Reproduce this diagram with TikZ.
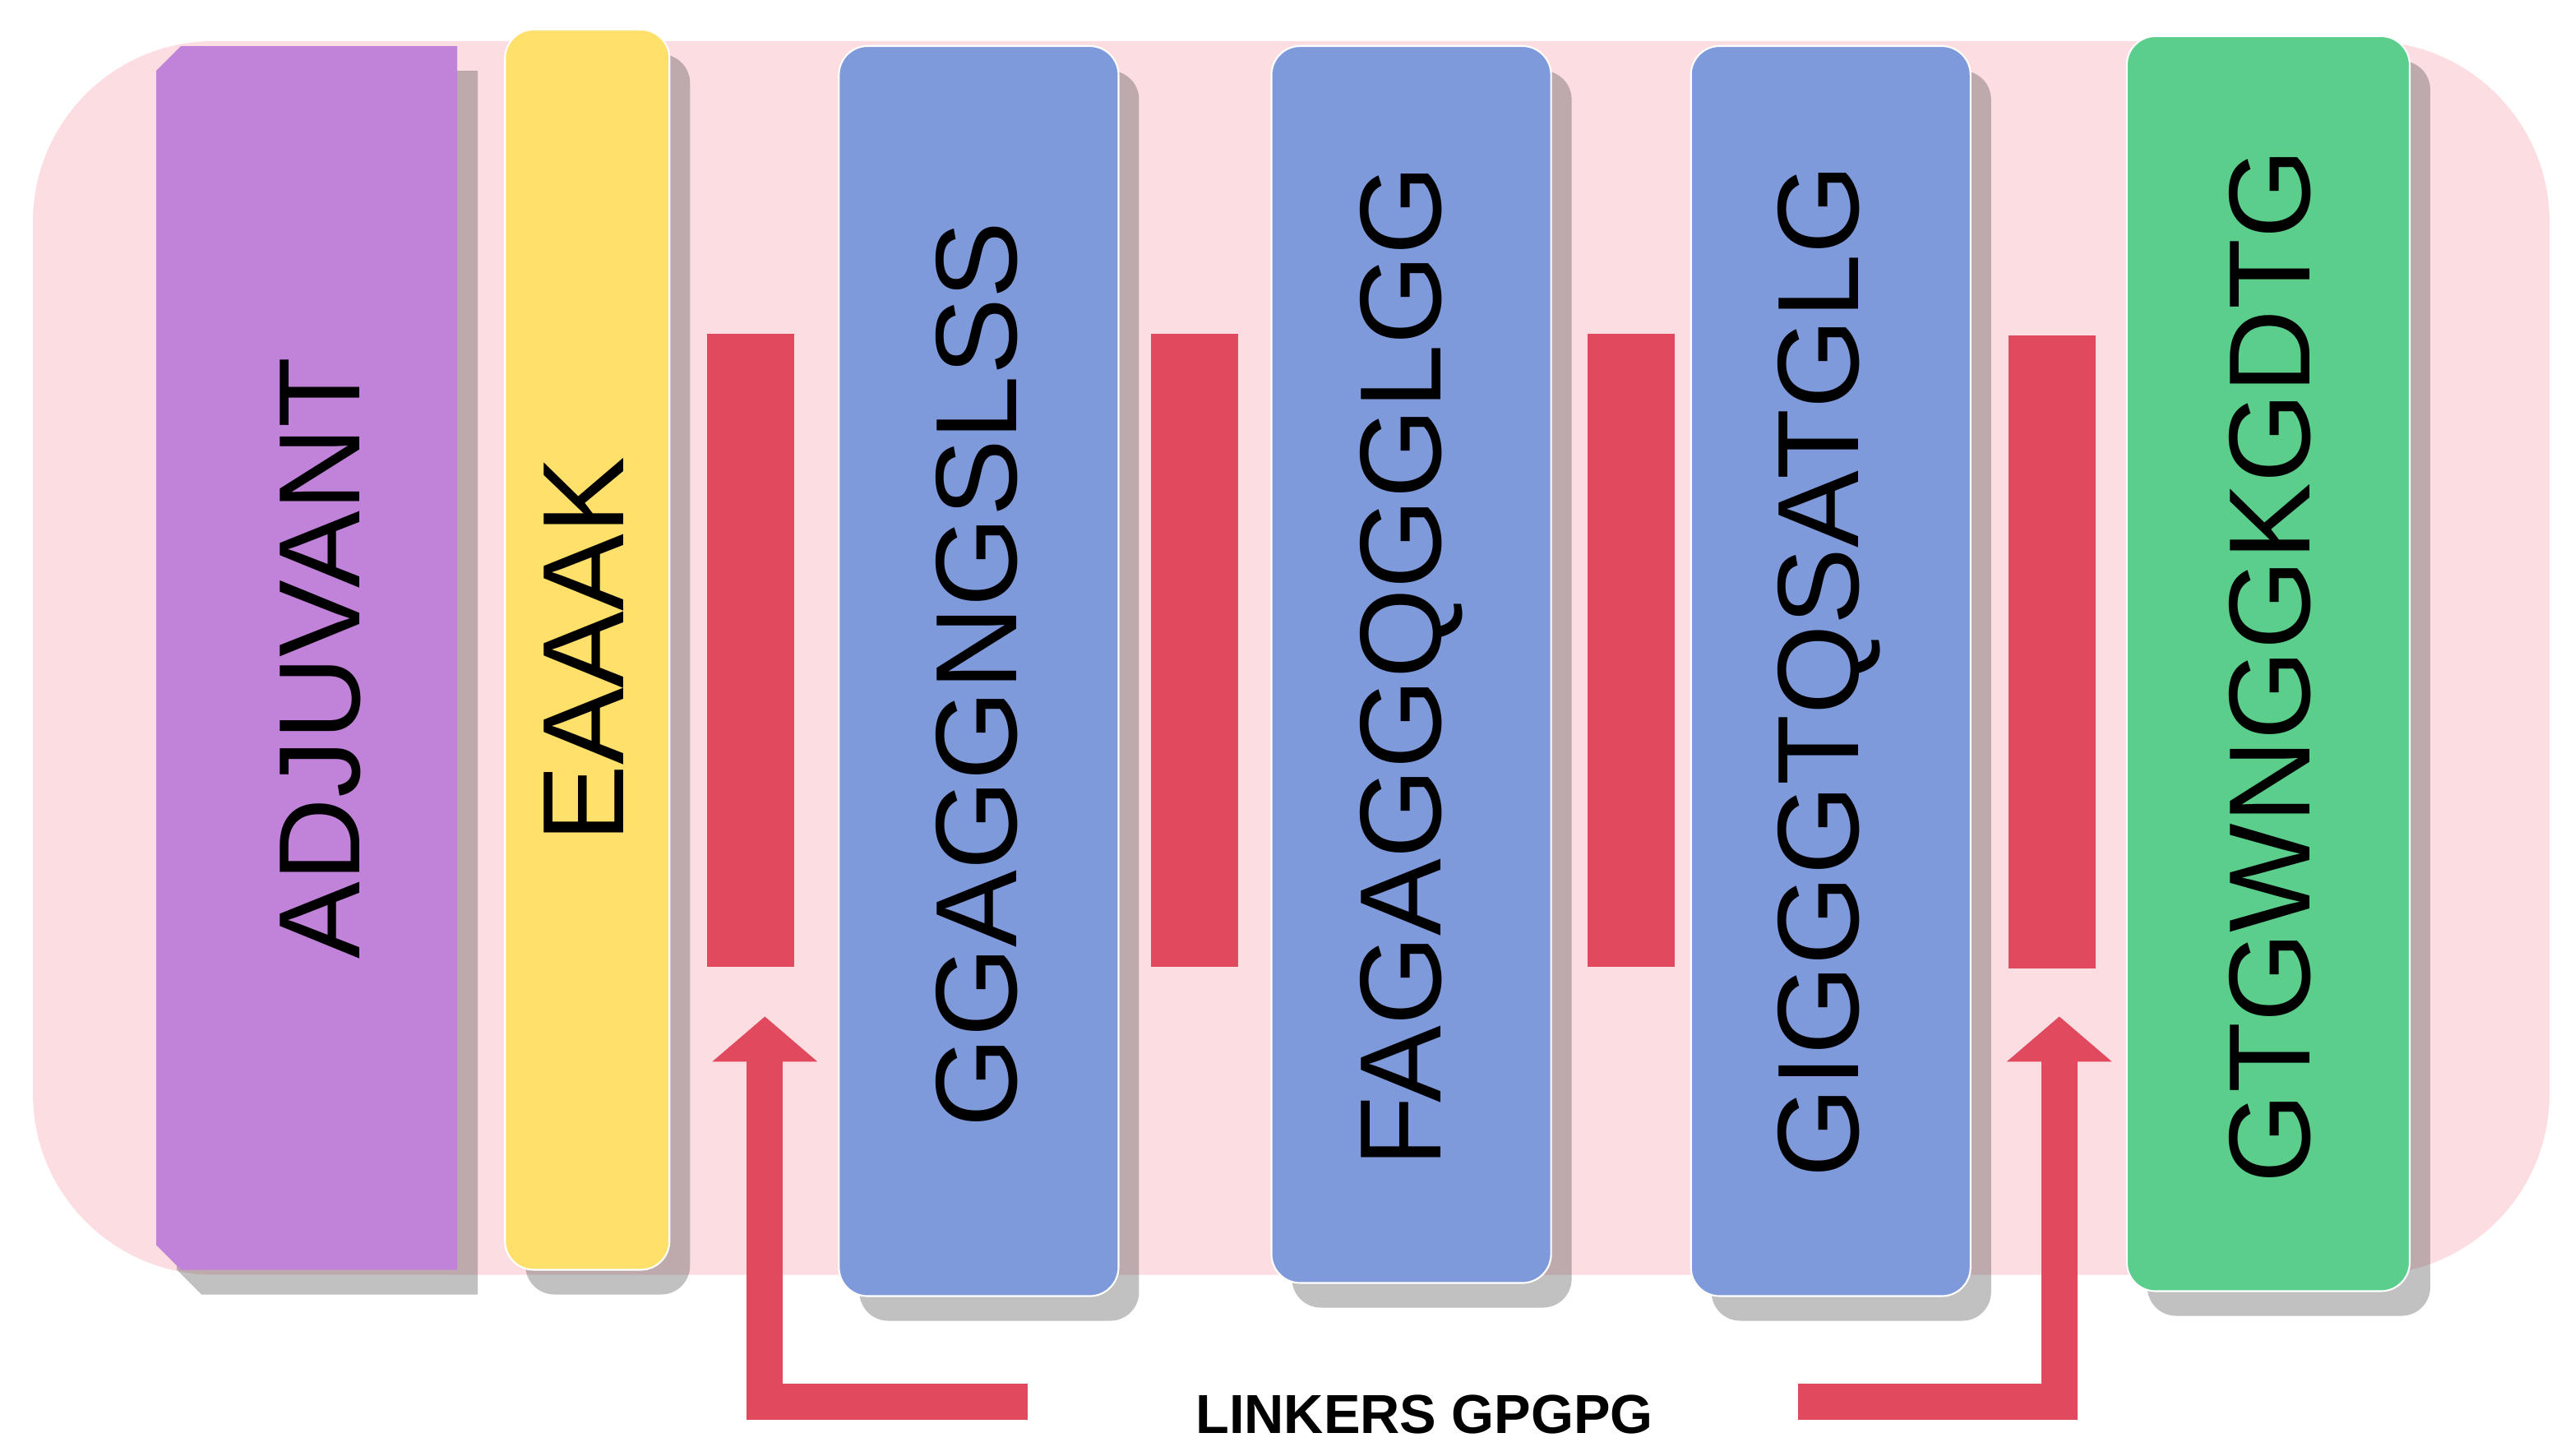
\documentclass[tikz,border=0pt]{standalone}
\usepackage{fontspec}
\setmainfont{Liberation Sans}
\usetikzlibrary{shadows,arrows.meta}
\definecolor{bgpink}{HTML}{FCDDE2}
\definecolor{purp}{HTML}{C183DA}
\definecolor{yel}{HTML}{FFE06A}
\definecolor{redb}{HTML}{E0495E}
\definecolor{blu}{HTML}{7F9ADB}
\definecolor{grn}{HTML}{5BCE8C}
\begin{document}
\begin{tikzpicture}[x=0.02cm,y=-0.02cm,
  sh/.style={drop shadow={shadow xshift=0.25cm,shadow yshift=-0.3cm,opacity=0.35,fill=black!70}},
  box/.style={sh,rounded corners=0.35cm,draw=white,line width=0.6pt},
  lab/.style={rotate=90,font=\fontsize{40}{40}\selectfont},
  bar/.style={fill=redb},
  link/.style={draw=redb,line width=0.44cm,-{Triangle[length=0.55cm,width=1.25cm]}}]
\useasboundingbox (0,0) rectangle (1557,885);
\fill[bgpink,rounded corners=2.2cm] (20,25) rectangle (1550,775);
% adjuvant
\fill[purp,sh] (110,28) -- (278,28) -- (278,772) -- (110,772) -- (95,757) -- (95,43) -- cycle;
\node[lab] (adj) at (195,400) {ADJUVANT};
\fill[yel,box] (307,18) rectangle (407,772);
\node[lab] (e) at (355,395) {EAAAK};
\fill[blu,box] (510,28) rectangle (680,788);
\node[lab] (b1) at (594,410) {GGAGGNGSLSS};
\fill[blu,box] (773,28) rectangle (943,780);
\node[lab] (b2) at (858,405) {FAGAGGQGGLGG};
\fill[blu,box] (1028,28) rectangle (1198,788);
\node[lab] (b3) at (1112,408) {GIGGGTQSATGLG};
\fill[grn,box] (1293,22) rectangle (1465,785);
\node[lab] (g) at (1380,405) {GTGWNGGKGDTG};
\node[bar,minimum width=1.06cm,minimum height=7.7cm,inner sep=0] (r1) at (456.5,395.5) {};
\node[bar,minimum width=1.06cm,minimum height=7.7cm,inner sep=0] (r2) at (726.5,395.5) {};
\node[bar,minimum width=1.06cm,minimum height=7.7cm,inner sep=0] (r3) at (991.5,395.5) {};
\node[bar,minimum width=1.06cm,minimum height=7.7cm,inner sep=0] (r4) at (1247.5,396.5) {};
\node[font=\bfseries\fontsize{19}{19}\selectfont] (lk) at (866,860) {LINKERS GPGPG};
\coordinate (s1) at (625,852);
\coordinate (s2) at (1093,852);
\draw[link] (s1) -- (465,852) -- (465,618);
\draw[link] (s2) -- (1252,852) -- (1252,618);
\end{tikzpicture}
\end{document}
